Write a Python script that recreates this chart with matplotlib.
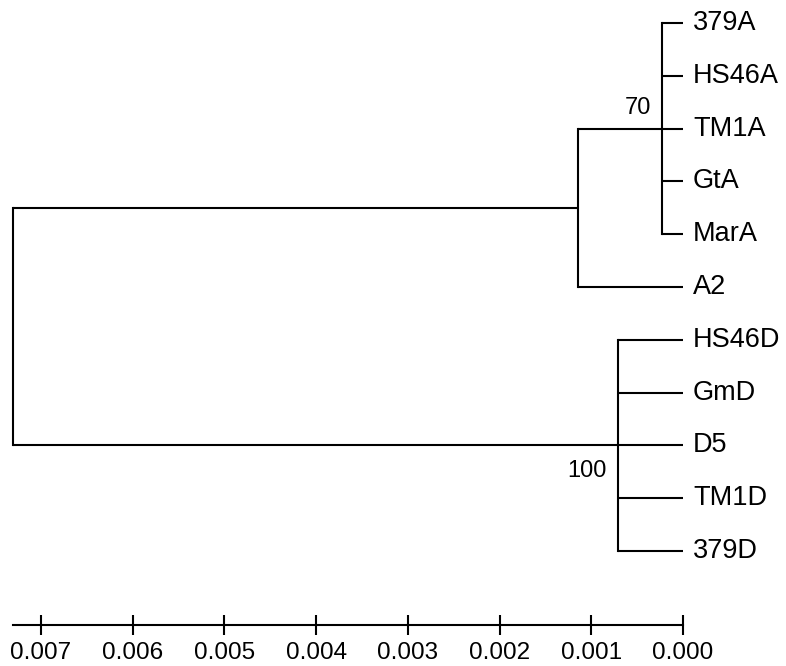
import matplotlib
matplotlib.use('Agg')
import matplotlib.pyplot as plt

plt.rcParams['font.family'] = ['Liberation Sans', 'DejaVu Sans']

# tree data (branch lengths)
leaves = ['379A', 'HS46A', 'TM1A', 'GtA', 'MarA', 'A2',
          'HS46D', 'GmD', 'D5', 'TM1D', '379D']
clade_names = ['A', 'A_A2', 'D', 'root']
clade_children = [['379A', 'HS46A', 'TM1A', 'GtA', 'MarA'],
                  ['A', 'A2'],
                  ['HS46D', 'GmD', 'D5', 'TM1D', '379D'],
                  ['A_A2', 'D']]
clade_heights = [0.00023, 0.00115, 0.00071, 0.0073]
bootstrap = [70, None, 100, None]

scale_ticks = [0.007, 0.006, 0.005, 0.004, 0.003, 0.002, 0.001, 0.000]

W, H, DPI = 786, 666, 100
fig = plt.figure(figsize=(W / DPI, H / DPI), dpi=DPI)
ax = fig.add_axes([0, 0, 1, 1])

# pixel mapping: 0.000 at x=683, 0.007 at x=41; leaves every 52.8 px from y=23
px_per_unit = (683 - 41) / 0.007
ax.set_xlim(683 / px_per_unit, -(W - 683) / px_per_unit)
row = 52.8
ax.set_ylim((H - 23) / row, -23 / row)

pos = {}
height = {}
for i, name in enumerate(leaves):
    pos[name] = i
    height[name] = 0.0

lw = 1.5
for name, kids, h, bs in zip(clade_names, clade_children, clade_heights, bootstrap):
    ys = [pos[k] for k in kids]
    for k in kids:
        ax.plot([height[k], h], [pos[k], pos[k]], color='black', lw=lw,
                solid_capstyle='butt')
    ax.plot([h, h], [min(ys), max(ys)], color='black', lw=lw,
            solid_capstyle='projecting')
    pos[name] = (min(ys) + max(ys)) / 2
    height[name] = h
    if bs is not None:
        dx = 11 / px_per_unit
        if bs < 100:
            ax.text(h + dx, pos[name] - 10 / row, str(bs), ha='right',
                    va='bottom', fontsize=17)
        else:
            ax.text(h + dx, pos[name] + 15 / row, str(bs), ha='right',
                    va='top', fontsize=17)

for name in leaves:
    ax.text(-10 / px_per_unit, pos[name], name, ha='left', va='center',
            fontsize=19.5)

# scale bar as the bottom spine
for s in ['top', 'right', 'left']:
    ax.spines[s].set_visible(False)
ax.spines['bottom'].set_position(('data', (625 - 23) / row))
ax.spines['bottom'].set_bounds(clade_heights[-1], 0.0)
ax.spines['bottom'].set_linewidth(lw)
ax.set_xticks(scale_ticks)
ax.set_xticklabels(['%.3f' % t for t in scale_ticks])
ax.tick_params(axis='x', direction='inout', length=14, width=lw,
               labelsize=17.5, pad=5)
ax.set_yticks([])
ax.patch.set_visible(False)

fig.savefig('out.png', dpi=DPI, facecolor='white')
